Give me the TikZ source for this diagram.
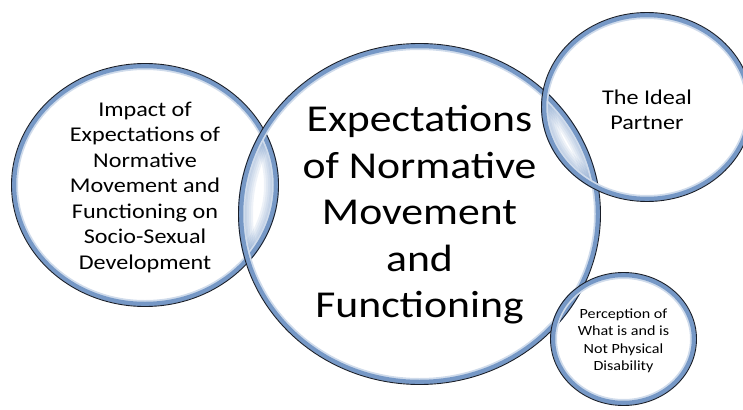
\documentclass[tikz,border=0pt]{standalone}
\usepackage{fontspec}
\setmainfont{Carlito}[FakeStretch=1.15]
\usepackage{tikz}
\usetikzlibrary{calc,positioning}
\definecolor{ringblue}{RGB}{118,152,198}
\definecolor{rimdark}{RGB}{25,30,40}
\tikzset{
  band/.style={draw=ringblue, line width=4.5pt},
  halo/.style={draw=ringblue!35, line width=2pt},
  rim/.style={draw=rimdark, line width=0.9pt},
  glass/.style={draw=ringblue, opacity=0.12},
  txt/.style={align=center, inner sep=0pt, text=black},
  bigtxt/.style={txt, font=\fontsize{38}{46.5}\selectfont},
  midtxt/.style={txt, font=\fontsize{21}{25.5}\selectfont},
  smalltxt/.style={txt, font=\fontsize{14}{17.5}\selectfont}
}
% one ring: centre, x radius, y radius
\newcommand{\vennring}[3]{%
  \path[halo] (#1) ellipse [x radius=#2-6, y radius=#3-6];
  \path[band] (#1) ellipse [x radius=#2-3, y radius=#3-3];
  \path[rim]  (#1) ellipse [x radius=#2-0.5, y radius=#3-0.5];
}
% lens between two rings
\newcommand{\vennlens}[6]{%
  \begin{scope}
    \clip (#1) ellipse [x radius=#2, y radius=#3];
    \clip (#4) ellipse [x radius=#5, y radius=#6];
    \foreach \w in {30,26,22,18,15,12,9} {
      \path[glass, line width=\w pt] (#1) ellipse [x radius=#2, y radius=#3];
      \path[glass, line width=\w pt] (#4) ellipse [x radius=#5, y radius=#6];
    }
  \end{scope}
}
\begin{document}
\begin{tikzpicture}[x=1pt, y=-1pt]
  \useasboundingbox (0,0) rectangle (743,409);
  % centres of the circles
  \coordinate (cimpact) at (145,185);
  \coordinate (cmain) at (419.5,214);
  \coordinate (cpartner) at (647,107);
  \coordinate (cdisab) at (623.5,339);

  % lenses
  \vennlens{cimpact}{134}{122}{cmain}{181.5}{171}
  \vennlens{cmain}{181.5}{171}{cpartner}{106}{95}
  \vennlens{cmain}{181.5}{171}{cdisab}{73.5}{67}

  % rings
  \vennring{cimpact}{134}{122}
  \vennring{cmain}{181.5}{171}
  \vennring{cpartner}{106}{95}
  \vennring{cdisab}{73.5}{67}

  % texts
  \node[bigtxt] (main) at ($(cmain)+(0,1)$) {Expectations\\of Normative\\Movement\\and\\Functioning};
  \node[midtxt] (impact) at ($(cimpact)+(0,2)$) {Impact of\\Expectations of\\Normative\\Movement and\\Functioning on\\Socio-Sexual\\Development};
  \node[midtxt] (partner) at ($(cpartner)+(0,3)$) {The Ideal\\Partner};
  \node[smalltxt] (disab) at ($(cdisab)+(0,2)$) {Perception of\\What is and is\\Not Physical\\Disability};
\end{tikzpicture}
\end{document}
